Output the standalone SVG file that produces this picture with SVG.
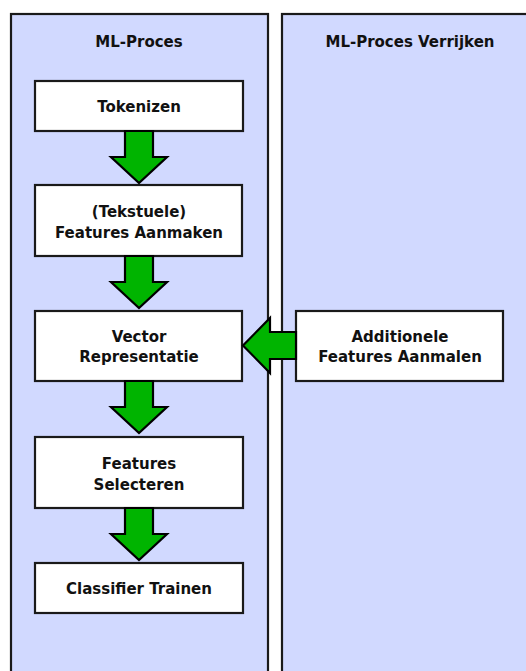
<svg xmlns="http://www.w3.org/2000/svg" width="526" height="671" viewBox="0 0 526 671">
  <style>
    .lane { fill: #d1d9ff; stroke: #1a1a1a; stroke-width: 2.2; }
    .box { fill: #ffffff; stroke: #1a1a1a; stroke-width: 2.2; }
    .arrow { fill: #00b400; stroke: #000000; stroke-width: 2.2; stroke-linejoin: miter; }
    text { font-family: "DejaVu Sans", Verdana, sans-serif; font-weight: bold; font-size: 15px; fill: #111111; text-anchor: middle; }
  </style>
  <rect width="526" height="671" fill="#ffffff"/>

  <!-- swimlanes -->
  <g id="lane-ml-proces">
    <rect class="lane" x="11" y="14" width="257" height="670"/>
    <text x="139" y="47">ML-Proces</text>
  </g>
  <g id="lane-verrijken">
    <rect class="lane" x="282" y="14" width="260" height="670"/>
    <text x="410" y="47">ML-Proces Verrijken</text>
  </g>

  <!-- process steps -->
  <g id="node-tokenizen">
    <rect class="box" x="35" y="81" width="208" height="50"/>
    <text x="139" y="112">Tokenizen</text>
  </g>
  <g id="node-features-aanmaken">
    <rect class="box" x="35" y="185" width="207" height="71"/>
    <text x="139" y="217">(Tekstuele)</text>
    <text x="139" y="238">Features Aanmaken</text>
  </g>
  <g id="node-vector">
    <rect class="box" x="35" y="311" width="207" height="70"/>
    <text x="139" y="342">Vector</text>
    <text x="139" y="362">Representatie</text>
  </g>
  <g id="node-features-selecteren">
    <rect class="box" x="35" y="437" width="208" height="71"/>
    <text x="139" y="469">Features</text>
    <text x="139" y="490">Selecteren</text>
  </g>
  <g id="node-classifier">
    <rect class="box" x="35" y="563" width="208" height="50"/>
    <text x="139" y="594">Classifier Trainen</text>
  </g>
  <g id="node-additionele">
    <rect class="box" x="296" y="311" width="207" height="70"/>
    <text x="400" y="342">Additionele</text>
    <text x="400" y="362">Features Aanmalen</text>
  </g>

  <!-- block arrows between steps -->
  <g id="connectors">
    <polygon class="arrow" points="125,131 153,131 153,157 167,157 139,183 111,157 125,157"/>
    <polygon class="arrow" points="125,256 153,256 153,282 167,282 139,308 111,282 125,282"/>
    <polygon class="arrow" points="125,381 153,381 153,407 167,407 139,433 111,407 125,407"/>
    <polygon class="arrow" points="125,508 153,508 153,534 167,534 139,560 111,534 125,534"/>
    <polygon class="arrow" points="296,332 270,332 270,318 243,345.5 270,373 270,359 296,359"/>
  </g>
</svg>
